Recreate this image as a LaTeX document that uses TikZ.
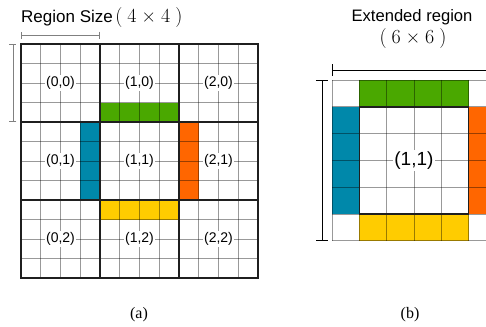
\documentclass[tikz,border=0pt]{standalone}
\usepackage{fontspec}
\setmainfont{Liberation Serif}
\setsansfont{Liberation Sans}
\newfontfamily\lmfont{Latin Modern Roman}
\usepackage{tikz}
\usetikzlibrary{arrows.meta}
\definecolor{BandGreen}{RGB}{74,168,0}
\definecolor{BandBlue}{RGB}{0,136,170}
\definecolor{BandOrange}{RGB}{255,102,0}
\definecolor{BandYellow}{RGB}{255,204,0}
\newcommand{\sizetext}[2]{{\lmfont\fontsize{20}{22}\selectfont
  (\hspace{0.25em}#1\hspace{0.25em}×\hspace{0.25em}#2\hspace{0.25em})}}

\begin{document}
\begin{tikzpicture}[
  x=1pt, y=-1pt,
  font=\sffamily,
  cellline/.style={draw=black, draw opacity=0.4, line width=0.8pt},
  regionline/.style={draw=black!88, line width=1.6pt, line cap=rect},
  regiontag/.style={fill=white, inner sep=1.5pt, font=\sffamily\fontsize{14}{16}\selectfont},
  titletext/.style={font=\sffamily\fontsize{17}{20}\selectfont},
  captext/.style={font=\rmfamily\fontsize{16}{18}\selectfont},
  dimgray/.style={draw=black!50, line width=0.8pt, {Bar[width=7pt]}-{Bar[width=7pt]}},
  dimblack/.style={draw=black, line width=0.8pt, {Bar[width=12pt]}-{Bar[width=12pt]}},
]
  \useasboundingbox (0,0) rectangle (486,326);

  % titles
  \node[titletext, anchor=base west, inner sep=0pt] (title-a) at (21,22.3)
    {Region Size\hspace{0.15em}\sizetext{4}{4}};
  \node[titletext, anchor=base, font=\sffamily\fontsize{16.6}{20}\selectfont] (title-b)
    at (412,22) {Extended region};
  \node[titletext, anchor=base] (size-b) at (413,44) {\sizetext{6}{6}};

  % (a) regions of 4x4 cells
  \begin{scope}[shift={(21,44)}, x=19.75pt, y=-19.5pt]
    \fill[BandGreen] (4,3) rectangle (8,4);
    \fill[BandBlue] (3,4) rectangle (4,8);
    \fill[BandOrange] (8,4) rectangle (9,8);
    \fill[BandYellow] (4,8) rectangle (8,9);
    \foreach \i in {0,...,12} {
      \draw[cellline] (\i,0) -- (\i,12);
      \draw[cellline] (0,\i) -- (12,\i);
    }
    \foreach \i in {0,4,8,12} {
      \draw[regionline] (\i,0) -- (\i,12);
      \draw[regionline] (0,\i) -- (12,\i);
    }
    \foreach \c in {0,1,2} {
      \foreach \r in {0,1,2} {
        \node[regiontag] (reg-\c\r) at ({4*\c+2},{4*\r+2}) {(\c,\r)};
      }
    }
    % size marks
    \coordinate (wa-l) at (0,-0.45);
    \coordinate (wa-r) at (4,-0.45);
    \coordinate (ha-t) at (-0.41,0);
    \coordinate (ha-b) at (-0.41,4);
    \draw[dimgray] (wa-l) -- (wa-r);
    \draw[dimgray] (ha-t) -- (ha-b);
  \end{scope}

  % (b) extended region of 6x6 cells
  \begin{scope}[shift={(332,80)}, x=27.3pt, y=-26.8pt]
    \fill[BandGreen] (1,0) rectangle (5,1);
    \fill[BandBlue] (0,1) rectangle (1,5);
    \fill[BandOrange] (5,1) rectangle (6,5);
    \fill[BandYellow] (1,5) rectangle (5,6);
    \foreach \i in {0,...,6} {
      \draw[cellline] (\i,0) -- (\i,6);
      \draw[cellline] (0,\i) -- (6,\i);
    }
    \draw[regionline] (1,1) rectangle (5,5);
    \node[regiontag, font=\sffamily\fontsize{19}{22}\selectfont] (reg-ext) at (3,3) {(1,1)};
    % size marks
    \coordinate (wb-l) at (0,-0.37);
    \coordinate (wb-r) at (6,-0.37);
    \coordinate (hb-t) at (-0.37,0);
    \coordinate (hb-b) at (-0.37,6);
    \draw[dimblack] (wb-l) -- (wb-r);
    \draw[dimblack] (hb-t) -- (hb-b);
  \end{scope}

  % captions
  \node[captext] (cap-a) at (139,315) {(a)};
  \node[captext] (cap-b) at (410,315) {(b)};
\end{tikzpicture}
\end{document}
